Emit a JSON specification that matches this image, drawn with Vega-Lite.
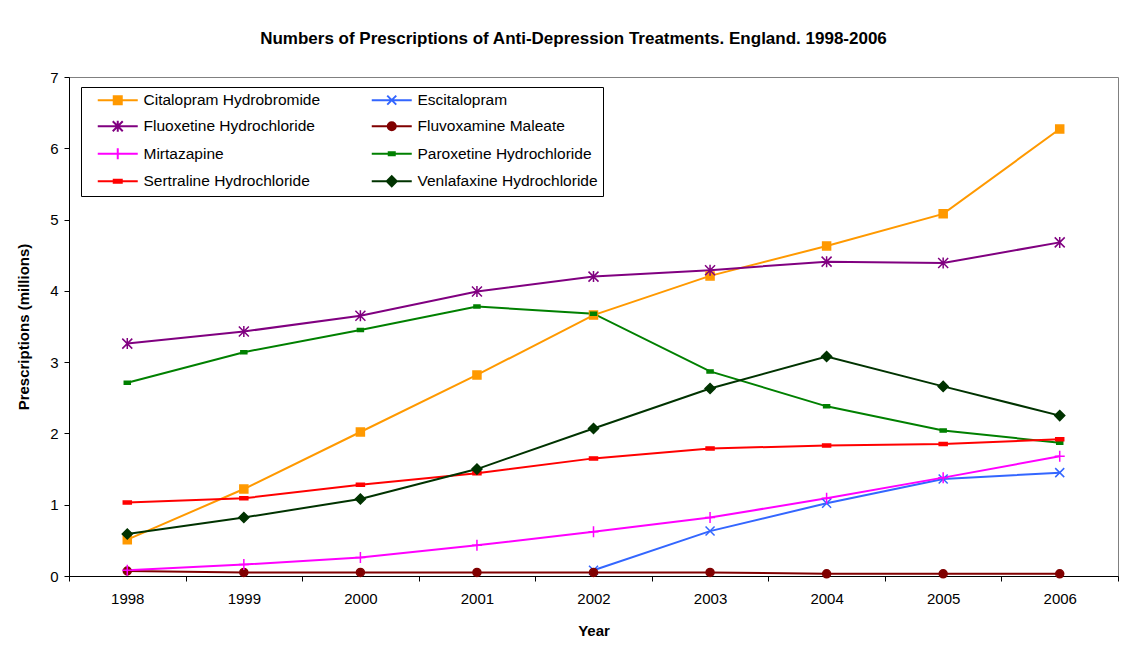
{
  "$schema": "https://vega.github.io/schema/vega-lite/v6.json",
  "width": 1049,
  "height": 499,
  "autosize": {"type": "none"},
  "padding": {"left": 69, "top": 77, "right": 10, "bottom": 70},
  "background": "white",
  "title": {
    "text": "Numbers of Prescriptions of Anti-Depression Treatments. England. 1998-2006",
    "fontSize": 17,
    "fontWeight": "bold",
    "color": "black",
    "anchor": "middle",
    "dx": -20,
    "offset": 22
  },
  "config": {
    "font": "Liberation Sans",
    "view": {"stroke": "#808080", "strokeWidth": 1}
  },
  "data": {
    "values": [
      {"year": "1998", "drug": "Citalopram Hydrobromide", "value": 0.51},
      {"year": "1999", "drug": "Citalopram Hydrobromide", "value": 1.22},
      {"year": "2000", "drug": "Citalopram Hydrobromide", "value": 2.02},
      {"year": "2001", "drug": "Citalopram Hydrobromide", "value": 2.82},
      {"year": "2002", "drug": "Citalopram Hydrobromide", "value": 3.66},
      {"year": "2003", "drug": "Citalopram Hydrobromide", "value": 4.21},
      {"year": "2004", "drug": "Citalopram Hydrobromide", "value": 4.63},
      {"year": "2005", "drug": "Citalopram Hydrobromide", "value": 5.08},
      {"year": "2006", "drug": "Citalopram Hydrobromide", "value": 6.27},
      {"year": "2002", "drug": "Escitalopram", "value": 0.08},
      {"year": "2003", "drug": "Escitalopram", "value": 0.63},
      {"year": "2004", "drug": "Escitalopram", "value": 1.02},
      {"year": "2005", "drug": "Escitalopram", "value": 1.36},
      {"year": "2006", "drug": "Escitalopram", "value": 1.45},
      {"year": "1998", "drug": "Fluoxetine Hydrochloride", "value": 3.26},
      {"year": "1999", "drug": "Fluoxetine Hydrochloride", "value": 3.43},
      {"year": "2000", "drug": "Fluoxetine Hydrochloride", "value": 3.65},
      {"year": "2001", "drug": "Fluoxetine Hydrochloride", "value": 3.99},
      {"year": "2002", "drug": "Fluoxetine Hydrochloride", "value": 4.20},
      {"year": "2003", "drug": "Fluoxetine Hydrochloride", "value": 4.29},
      {"year": "2004", "drug": "Fluoxetine Hydrochloride", "value": 4.41},
      {"year": "2005", "drug": "Fluoxetine Hydrochloride", "value": 4.39},
      {"year": "2006", "drug": "Fluoxetine Hydrochloride", "value": 4.68},
      {"year": "1998", "drug": "Fluvoxamine Maleate", "value": 0.07},
      {"year": "1999", "drug": "Fluvoxamine Maleate", "value": 0.05},
      {"year": "2000", "drug": "Fluvoxamine Maleate", "value": 0.05},
      {"year": "2001", "drug": "Fluvoxamine Maleate", "value": 0.05},
      {"year": "2002", "drug": "Fluvoxamine Maleate", "value": 0.05},
      {"year": "2003", "drug": "Fluvoxamine Maleate", "value": 0.05},
      {"year": "2004", "drug": "Fluvoxamine Maleate", "value": 0.03},
      {"year": "2005", "drug": "Fluvoxamine Maleate", "value": 0.03},
      {"year": "2006", "drug": "Fluvoxamine Maleate", "value": 0.03},
      {"year": "1998", "drug": "Mirtazapine", "value": 0.08},
      {"year": "1999", "drug": "Mirtazapine", "value": 0.16},
      {"year": "2000", "drug": "Mirtazapine", "value": 0.26},
      {"year": "2001", "drug": "Mirtazapine", "value": 0.43},
      {"year": "2002", "drug": "Mirtazapine", "value": 0.62},
      {"year": "2003", "drug": "Mirtazapine", "value": 0.82},
      {"year": "2004", "drug": "Mirtazapine", "value": 1.09},
      {"year": "2005", "drug": "Mirtazapine", "value": 1.38},
      {"year": "2006", "drug": "Mirtazapine", "value": 1.68},
      {"year": "1998", "drug": "Paroxetine Hydrochloride", "value": 2.71},
      {"year": "1999", "drug": "Paroxetine Hydrochloride", "value": 3.14},
      {"year": "2000", "drug": "Paroxetine Hydrochloride", "value": 3.45},
      {"year": "2001", "drug": "Paroxetine Hydrochloride", "value": 3.78},
      {"year": "2002", "drug": "Paroxetine Hydrochloride", "value": 3.68},
      {"year": "2003", "drug": "Paroxetine Hydrochloride", "value": 2.87},
      {"year": "2004", "drug": "Paroxetine Hydrochloride", "value": 2.38},
      {"year": "2005", "drug": "Paroxetine Hydrochloride", "value": 2.04},
      {"year": "2006", "drug": "Paroxetine Hydrochloride", "value": 1.87},
      {"year": "1998", "drug": "Sertraline Hydrochloride", "value": 1.03},
      {"year": "1999", "drug": "Sertraline Hydrochloride", "value": 1.09},
      {"year": "2000", "drug": "Sertraline Hydrochloride", "value": 1.28},
      {"year": "2001", "drug": "Sertraline Hydrochloride", "value": 1.44},
      {"year": "2002", "drug": "Sertraline Hydrochloride", "value": 1.65},
      {"year": "2003", "drug": "Sertraline Hydrochloride", "value": 1.79},
      {"year": "2004", "drug": "Sertraline Hydrochloride", "value": 1.83},
      {"year": "2005", "drug": "Sertraline Hydrochloride", "value": 1.85},
      {"year": "2006", "drug": "Sertraline Hydrochloride", "value": 1.92},
      {"year": "1998", "drug": "Venlafaxine Hydrochloride", "value": 0.59},
      {"year": "1999", "drug": "Venlafaxine Hydrochloride", "value": 0.82},
      {"year": "2000", "drug": "Venlafaxine Hydrochloride", "value": 1.08},
      {"year": "2001", "drug": "Venlafaxine Hydrochloride", "value": 1.50},
      {"year": "2002", "drug": "Venlafaxine Hydrochloride", "value": 2.07},
      {"year": "2003", "drug": "Venlafaxine Hydrochloride", "value": 2.63},
      {"year": "2004", "drug": "Venlafaxine Hydrochloride", "value": 3.08},
      {"year": "2005", "drug": "Venlafaxine Hydrochloride", "value": 2.66},
      {"year": "2006", "drug": "Venlafaxine Hydrochloride", "value": 2.25}
    ]
  },
  "encoding": {
    "x": {
      "field": "year",
      "type": "ordinal",
      "scale": {"type": "band", "paddingInner": 0, "paddingOuter": 0},
      "axis": {
        "title": "Year",
        "labelAngle": 0,
        "tickBand": "extent",
        "domainColor": "black",
        "tickColor": "black",
        "tickSize": 5,
        "labelFontSize": 15,
        "labelColor": "black",
        "labelPadding": 10,
        "titleFontSize": 15,
        "titleFontWeight": "bold",
        "titleColor": "black",
        "titlePadding": 17
      }
    },
    "y": {
      "field": "value",
      "type": "quantitative",
      "scale": {"domain": [0, 7], "nice": false},
      "axis": {
        "title": "Prescriptions (millions)",
        "values": [0, 1, 2, 3, 4, 5, 6, 7],
        "grid": false,
        "domainColor": "black",
        "tickColor": "black",
        "tickSize": 5,
        "labelFontSize": 15,
        "labelColor": "black",
        "labelPadding": 6,
        "titleFontSize": 15,
        "titleFontWeight": "bold",
        "titleColor": "black",
        "titlePadding": 18
      }
    }
  },
  "layer": [
    {
      "mark": {"type": "line", "strokeWidth": 2},
      "encoding": {
        "color": {
          "field": "drug",
          "type": "nominal",
          "scale": {
            "domain": ["Citalopram Hydrobromide", "Escitalopram", "Fluoxetine Hydrochloride", "Fluvoxamine Maleate", "Mirtazapine", "Paroxetine Hydrochloride", "Sertraline Hydrochloride", "Venlafaxine Hydrochloride"],
            "range": ["#FF9900", "#3366FF", "#800080", "#800000", "#FF00FF", "#008000", "#FF0000", "#003300"]
          },
          "legend": null
        }
      }
    },
    {
      "mark": {"type": "point", "filled": true, "size": 100, "strokeWidth": 1.5, "opacity": 1},
      "encoding": {
        "shape": {
          "field": "drug",
          "type": "nominal",
          "scale": {
            "domain": ["Citalopram Hydrobromide", "Escitalopram", "Fluoxetine Hydrochloride", "Fluvoxamine Maleate", "Mirtazapine", "Paroxetine Hydrochloride", "Sertraline Hydrochloride", "Venlafaxine Hydrochloride"],
            "range": [
              "M-0.8,-0.8H0.8V0.8H-0.8Z",
              "M-0.9,-0.9L0.9,0.9M-0.9,0.9L0.9,-0.9",
              "M-1,-1L1,1M-1,1L1,-1M0,-1.1V1.1",
              "M-0.8,0A0.8,0.8 0 1,0 0.8,0A0.8,0.8 0 1,0 -0.8,0Z",
              "M-1,0H1M0,-1.1V1.1",
              "M-0.6,-0.3H0.6V0.3H-0.6Z",
              "M-0.8,-0.3H0.8V0.3H-0.8Z",
              "M0,-1L1,0L0,1L-1,0Z"
            ]
          },
          "legend": null
        },
        "fill": {
          "field": "drug",
          "type": "nominal",
          "scale": {
            "domain": ["Citalopram Hydrobromide", "Escitalopram", "Fluoxetine Hydrochloride", "Fluvoxamine Maleate", "Mirtazapine", "Paroxetine Hydrochloride", "Sertraline Hydrochloride", "Venlafaxine Hydrochloride"],
            "range": ["#FF9900", "#3366FF", "#800080", "#800000", "#FF00FF", "#008000", "#FF0000", "#003300"]
          },
          "legend": null
        },
        "stroke": {
          "field": "drug",
          "type": "nominal",
          "scale": {
            "domain": ["Citalopram Hydrobromide", "Escitalopram", "Fluoxetine Hydrochloride", "Fluvoxamine Maleate", "Mirtazapine", "Paroxetine Hydrochloride", "Sertraline Hydrochloride", "Venlafaxine Hydrochloride"],
            "range": ["#FF9900", "#3366FF", "#800080", "#800000", "#FF00FF", "#008000", "#FF0000", "#003300"]
          },
          "legend": null
        }
      }
    },
    {
      "mark": {"type": "point", "filled": true, "size": 100, "strokeWidth": 2, "opacity": 0},
      "encoding": {
        "shape": {
          "field": "drug",
          "type": "nominal",
          "scale": {
            "domain": ["Citalopram Hydrobromide", "Escitalopram", "Fluoxetine Hydrochloride", "Fluvoxamine Maleate", "Mirtazapine", "Paroxetine Hydrochloride", "Sertraline Hydrochloride", "Venlafaxine Hydrochloride"],
            "range": [
              "M-4,0H4M-0.8,-0.8H0.8V0.8H-0.8Z",
              "M-4,0H4M-0.9,-0.9L0.9,0.9M-0.9,0.9L0.9,-0.9",
              "M-4,0H4M-1,-1L1,1M-1,1L1,-1M0,-1.1V1.1",
              "M-4,0H4M-0.8,0A0.8,0.8 0 1,0 0.8,0A0.8,0.8 0 1,0 -0.8,0Z",
              "M-4,0H4M0,-1.1V1.1",
              "M-4,0H4M-0.6,-0.3H0.6V0.3H-0.6Z",
              "M-4,0H4M-0.8,-0.3H0.8V0.3H-0.8Z",
              "M-4,0H4M0,-1L1,0L0,1L-1,0Z"
            ]
          },
          "legend": {
            "title": null, "orient": "none", "legendX": 12, "legendY": 10, "columns": 2, "direction": "horizontal",
            "symbolSize": 100, "symbolStrokeWidth": 2, "symbolOpacity": 1,
            "symbolOffset": 24, "labelOffset": 18, "labelFontSize": 15.5, "labelColor": "black", "labelLimit": 300,
            "padding": 5, "rowPadding": 7.5, "columnPadding": 39,
            "strokeColor": "black", "fillColor": "white"
          }
        },
        "fill": {
          "field": "drug",
          "type": "nominal",
          "scale": {
            "domain": ["Citalopram Hydrobromide", "Escitalopram", "Fluoxetine Hydrochloride", "Fluvoxamine Maleate", "Mirtazapine", "Paroxetine Hydrochloride", "Sertraline Hydrochloride", "Venlafaxine Hydrochloride"],
            "range": ["#FF9900", "#3366FF", "#800080", "#800000", "#FF00FF", "#008000", "#FF0000", "#003300"]
          },
          "legend": {
            "title": null, "orient": "none", "legendX": 12, "legendY": 10, "columns": 2, "direction": "horizontal",
            "symbolSize": 100, "symbolStrokeWidth": 2, "symbolOpacity": 1,
            "symbolOffset": 24, "labelOffset": 18, "labelFontSize": 15.5, "labelColor": "black", "labelLimit": 300,
            "padding": 5, "rowPadding": 7.5, "columnPadding": 39,
            "strokeColor": "black", "fillColor": "white"
          }
        },
        "stroke": {
          "field": "drug",
          "type": "nominal",
          "scale": {
            "domain": ["Citalopram Hydrobromide", "Escitalopram", "Fluoxetine Hydrochloride", "Fluvoxamine Maleate", "Mirtazapine", "Paroxetine Hydrochloride", "Sertraline Hydrochloride", "Venlafaxine Hydrochloride"],
            "range": ["#FF9900", "#3366FF", "#800080", "#800000", "#FF00FF", "#008000", "#FF0000", "#003300"]
          },
          "legend": {
            "title": null, "orient": "none", "legendX": 12, "legendY": 10, "columns": 2, "direction": "horizontal",
            "symbolSize": 100, "symbolStrokeWidth": 2, "symbolOpacity": 1,
            "symbolOffset": 24, "labelOffset": 18, "labelFontSize": 15.5, "labelColor": "black", "labelLimit": 300,
            "padding": 5, "rowPadding": 7.5, "columnPadding": 39,
            "strokeColor": "black", "fillColor": "white"
          }
        }
      }
    }
  ],
  "resolve": {"scale": {"shape": "independent", "fill": "independent", "stroke": "independent"}}
}
